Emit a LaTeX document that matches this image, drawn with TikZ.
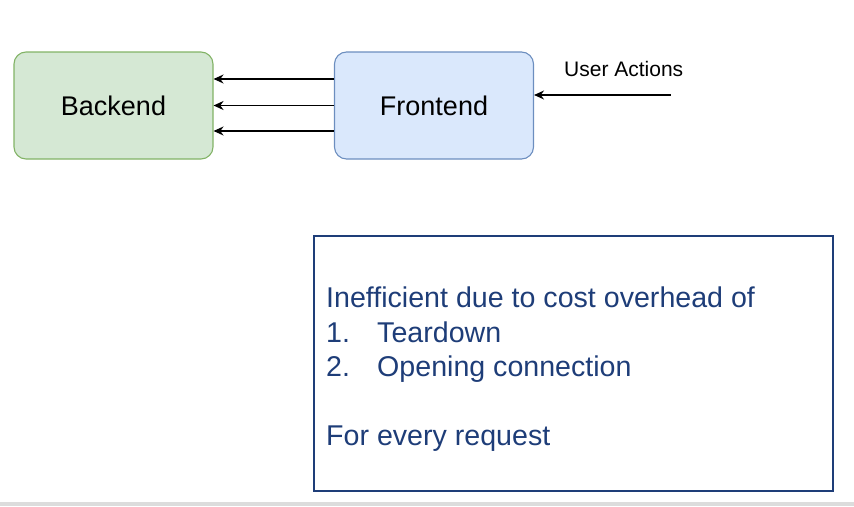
\documentclass[tikz,border=0pt]{standalone}
\usepackage{fontspec}
\setmainfont{Liberation Sans}
\usetikzlibrary{arrows.meta}
\definecolor{gfill}{HTML}{D5E8D4}
\definecolor{gdraw}{HTML}{82B366}
\definecolor{bfill}{HTML}{DAE8FC}
\definecolor{bdraw}{HTML}{6C8EBF}
\definecolor{navy}{HTML}{1E3D78}
\definecolor{band}{HTML}{DCDCDC}
\begin{document}
\begin{tikzpicture}[x=1pt,y=-1pt,
  boxnode/.style={rectangle, rounded corners=12pt, line width=1.1pt, minimum width=199pt, minimum height=107pt, inner sep=0pt, font=\fontsize{27}{31}\selectfont},
  arr/.style={-{Stealth[length=10pt,width=9pt]}, line width=1.4pt, black},
  notetext/.style={anchor=base west, inner sep=0pt, text=navy, font=\fontsize{28.6}{34}\selectfont}]
\useasboundingbox (0,0) rectangle (854,506);
\fill[band] (0,502) rectangle (854,506);
\node[boxnode, fill=gfill, draw=gdraw] (backend) at (113.5,105.5) {Backend};
\node[boxnode, fill=bfill, draw=bdraw] (frontend) at (434,105.5) {Frontend};
\draw[arr] ([yshift=26.5pt]frontend.west) -- ([yshift=26.5pt]backend.east);
\draw[arr] (frontend.west) -- (backend.east);
\draw[arr] ([yshift=-25.5pt]frontend.west) -- ([yshift=-25.5pt]backend.east);
\coordinate (ua) at (670.5,95);
\draw[arr] (ua) -- (frontend.east |- ua);
\node[anchor=base west, inner sep=0pt, font=\fontsize{21}{25}\selectfont] (ualabel) at (564,76) {User Actions};
\node[draw=navy, line width=2.5pt, rectangle, minimum width=519pt, minimum height=255pt, inner sep=0pt] (note) at (573.5,363.5) {};
\node[notetext] (l1) at (326,307.5) {Inefficient due to cost overhead of};
\node[notetext] (n1) at (326,342.5) {1.};
\node[notetext] (t1) at (377,342.5) {Teardown};
\node[notetext] (n2) at (326,376.5) {2.};
\node[notetext] (t2) at (377,376.5) {Opening connection};
\node[notetext] (l4) at (326,445.5) {For every request};
\end{tikzpicture}
\end{document}
